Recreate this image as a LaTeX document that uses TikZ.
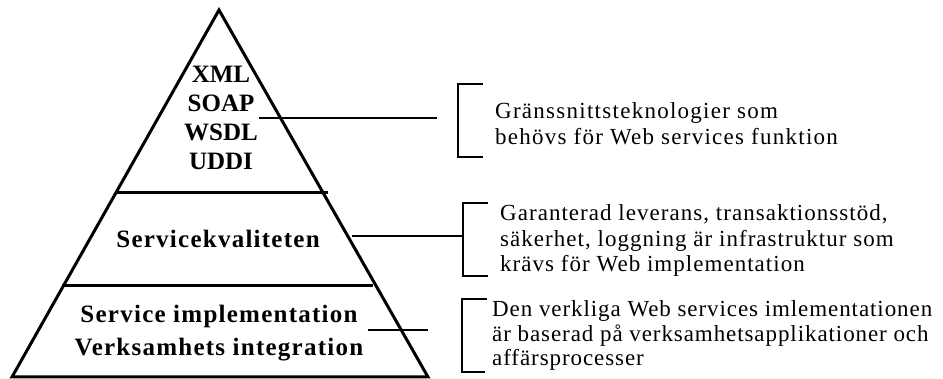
\documentclass[tikz,border=0pt]{standalone}
\usepackage{fontspec}
\setmainfont{Liberation Serif}
\usetikzlibrary{positioning}

\begin{document}
\begin{tikzpicture}[x=1pt, y=-1pt,
  tech/.style={font=\fontsize{25}{29}\selectfont\bfseries, align=center, inner sep=0pt, anchor=base},
  layer/.style={font=\fontsize{25}{33}\selectfont\bfseries\addfontfeature{LetterSpace=5}, align=center, inner sep=0pt, anchor=base},
  note/.style={font=\fontsize{23}{24.5}\selectfont\addfontfeature{LetterSpace=4}, align=left, inner sep=0pt, anchor=base west},
  wall/.style={line width=3pt, line join=miter},
  link/.style={line width=1.5pt}]
  \useasboundingbox (0,0) rectangle (943,379);
  % pyramid
  \coordinate (apex) at (219,10);
  \coordinate (bl) at (12,377);
  \coordinate (br) at (428,377);
  \draw[wall] (apex) -- (br) -- (bl) -- cycle;
  \draw[wall] (116,193) -- (328,193);
  \draw[wall] (62,286) -- (373,286);
  % layer texts
  \node[tech]  (std)  at (221,170) {XML\\SOAP\\WSDL\\UDDI};
  \node[layer] (qos)  at (218,248) {Servicekvaliteten};
  \node[layer] (impl) at (219,356) {Service implementation\\Verksamhets integration};
  % notes
  \node[note, font=\fontsize{23}{26}\selectfont\addfontfeature{LetterSpace=5.5}] (n1) at (495,145)
    {Gränssnittsteknologier som\\behövs för Web services funktion};
  \node[note, font=\fontsize{23}{25.5}\selectfont\addfontfeature{LetterSpace=4.5}] (n2) at (500,272)
    {Garanterad leverans, transaktionsstöd,\\säkerhet, loggning är infrastruktur som\\krävs för Web implementation};
  \node[note] (n3) at (492,366)
    {Den verkliga Web services imlementationen\\är baserad på verksamhetsapplikationer och\\affärsprocesser};
  % brackets
  \draw[link] (483,84) -- (458,84) -- (458,157) -- (483,157);
  \draw[link] (488,203) -- (463,203) -- (463,276) -- (488,276);
  \draw[link] (487,299) -- (462,299) -- (462,372) -- (485,372);
  % connectors
  \coordinate (c1a) at (259,118);  \coordinate (c1b) at (437,118);
  \coordinate (c2a) at (352,236);  \coordinate (c2b) at (463,236);
  \coordinate (c3a) at (368,330);  \coordinate (c3b) at (428,330);
  \draw[link] (c1a) -- (c1b);
  \draw[link] (c2a) -- (c2b);
  \draw[link] (c3a) -- (c3b);
\end{tikzpicture}
\end{document}
